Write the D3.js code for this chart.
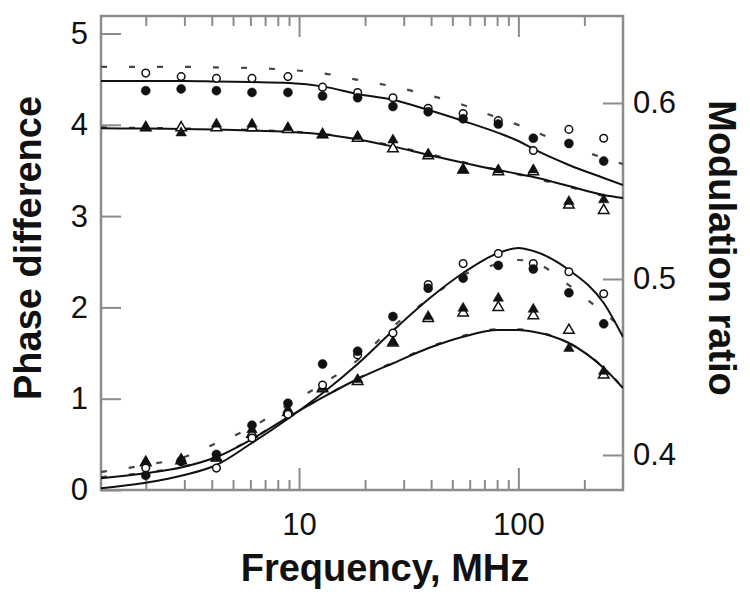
<!DOCTYPE html>
<html>
<head>
<meta charset="utf-8">
<script src="https://cdn.jsdelivr.net/npm/d3@7"></script>
<style>
  body { margin: 0; background: #fff; }
  text { font-family: "Liberation Sans", Arial, Helvetica, sans-serif; }
  .tickLabel text { font-size: 31px; fill: #111; }
  .axisTitle { font-size: 38px; font-weight: bold; fill: #111; }
</style>
</head>
<body>
<div id="chart"></div>
<script>
// measured frequencies (MHz)
const freqs = [2.0, 2.9, 4.2, 6.1, 8.9, 12.8, 18.5, 26.8, 38.8, 56, 81, 117, 170, 245];

// modulation ratio (right axis)
const modOpenCircle = [0.617, 0.615, 0.614, 0.614, 0.615, 0.609, 0.606, 0.603, 0.597, 0.594, 0.590, 0.573, 0.585, 0.580];
const modFilledCircle = [0.607, 0.608, 0.607, 0.606, 0.606, 0.604, 0.603, 0.598, 0.595, 0.591, 0.588, 0.580, 0.577, 0.567];
const modFilledTri = [0.586, 0.583, 0.588, 0.588, 0.586, 0.582, 0.581, 0.579, 0.571, 0.562, 0.562, 0.562, 0.544, 0.545];
const modOpenTri = [0.586, 0.586, 0.586, 0.586, 0.585, 0.582, 0.580, 0.574, 0.570, 0.562, 0.561, 0.561, 0.542, 0.539];

// phase difference (left axis)
const phOpenCircle = [0.24, 0.31, 0.24, 0.57, 0.83, 1.15, 1.48, 1.72, 2.25, 2.48, 2.59, 2.48, 2.39, 2.15];
const phFilledCircle = [0.16, 0.32, 0.39, 0.71, 0.95, 1.38, 1.52, 1.90, 2.21, 2.32, 2.46, 2.42, 2.16, 1.82];
const phFilledTri = [0.31, 0.34, 0.35, 0.66, 0.88, 1.12, 1.21, 1.62, 1.90, 1.99, 2.10, 1.98, 1.55, 1.30];
const phOpenTri = [0.30, 0.32, 0.35, 0.61, 0.85, 1.11, 1.19, 1.61, 1.88, 1.94, 2.00, 1.91, 1.75, 1.26];

// fitted curves
const curveFreqs = [1.25, 2, 3, 4.2, 6, 9, 13, 18.5, 27, 39, 56, 81, 100, 117, 170, 245, 300];
const modFitA = [0.6125, 0.6125, 0.6125, 0.6122, 0.6119, 0.6114, 0.6093, 0.6051, 0.6017, 0.5960, 0.5898, 0.5830, 0.5784, 0.5739, 0.5648, 0.5574, 0.5534];
const modFitADash = [0.6206, 0.6205, 0.6205, 0.6202, 0.6199, 0.6188, 0.6168, 0.6131, 0.6093, 0.6045, 0.5989, 0.5915, 0.5875, 0.5841, 0.5756, 0.5688, 0.5653];
const modFitB = [0.5856, 0.5855, 0.5852, 0.5849, 0.5844, 0.5835, 0.5821, 0.5793, 0.5752, 0.5705, 0.5661, 0.5619, 0.5597, 0.5580, 0.5528, 0.5477, 0.5460];
const modFitBDash = [0.5861, 0.5858, 0.5855, 0.5852, 0.5847, 0.5838, 0.5824, 0.5796, 0.5756, 0.5710, 0.5665, 0.5619, 0.5594, 0.5574, 0.5523, 0.5472, 0.5449];
const phFitA = [0.019, 0.080, 0.164, 0.274, 0.504, 0.789, 1.073, 1.380, 1.752, 2.092, 2.377, 2.596, 2.651, 2.618, 2.410, 2.048, 1.676];
const phFitADash = [0.197, 0.274, 0.361, 0.515, 0.679, 0.942, 1.172, 1.424, 1.796, 2.090, 2.355, 2.475, 2.519, 2.497, 2.245, 1.939, 1.774];
const phFitB = [0.128, 0.183, 0.255, 0.361, 0.548, 0.803, 1.022, 1.216, 1.391, 1.555, 1.679, 1.752, 1.752, 1.734, 1.610, 1.336, 1.117];
const phFitBDash = [0.140, 0.190, 0.260, 0.365, 0.552, 0.805, 1.024, 1.220, 1.400, 1.562, 1.688, 1.760, 1.760, 1.740, 1.612, 1.340, 1.120];

// ticks
const majorFreqTicks = [10, 100];
const minorFreqTicks = [2, 3, 4, 5, 6, 7, 8, 9, 20, 30, 40, 50, 60, 70, 80, 90, 200];
const phaseTicks = [0, 1, 2, 3, 4, 5];
const modTicks = [0.4, 0.5, 0.6];

const box = { left: 101, right: 623, top: 16, bottom: 490 };
const frameColor = "#8c8c8c";

var svg = d3.select("#chart").append("svg").attr("width", 750).attr("height", 605);

var x = d3.scaleLog().domain([1.25, 300]).range([box.left, box.right]);
var yL = d3.scaleLinear().domain([0, 5]).range([490, 33.5]);
var yR = d3.scaleLinear().domain([0.4, 0.6]).range([455, 103]);

function styleAxis(g, labels) {
  g.select(".domain").remove();
  g.selectAll(".tick line").attr("stroke", frameColor).attr("stroke-width", 2);
  if (!labels) g.selectAll(".tick text").remove();
  g.attr("class", "tickLabel");
}

// bottom axis
svg.append("g").attr("transform", `translate(0,${box.bottom})`)
  .call(d3.axisBottom(x).tickValues(majorFreqTicks).tickFormat(d3.format("d")).tickSizeInner(-22).tickSizeOuter(0).tickPadding(23))
  .call((g) => styleAxis(g, true));
svg.append("g").attr("transform", `translate(0,${box.bottom})`)
  .call(d3.axisBottom(x).tickValues(minorFreqTicks).tickSizeInner(-10).tickSizeOuter(0))
  .call((g) => styleAxis(g, false));
// top axis
svg.append("g").attr("transform", `translate(0,${box.top})`)
  .call(d3.axisTop(x).tickValues(majorFreqTicks).tickSizeInner(-21).tickSizeOuter(0))
  .call((g) => styleAxis(g, false));
svg.append("g").attr("transform", `translate(0,${box.top})`)
  .call(d3.axisTop(x).tickValues(minorFreqTicks).tickSizeInner(-10).tickSizeOuter(0))
  .call((g) => styleAxis(g, false));
// left axis
svg.append("g").attr("transform", `translate(${box.left},0)`)
  .call(d3.axisLeft(yL).tickValues(phaseTicks).tickFormat(d3.format("d")).tickSizeInner(-20).tickSizeOuter(0).tickPadding(13))
  .call((g) => styleAxis(g, true));
// right axis
svg.append("g").attr("transform", `translate(${box.right},0)`)
  .call(d3.axisRight(yR).tickValues(modTicks).tickFormat(d3.format(".1f")).tickSizeInner(-20).tickSizeOuter(0).tickPadding(10))
  .call((g) => styleAxis(g, true));

// frame
svg.append("rect")
  .attr("x", box.left).attr("y", box.top)
  .attr("width", box.right - box.left).attr("height", box.bottom - box.top)
  .attr("fill", "none").attr("stroke", frameColor).attr("stroke-width", 2.5);

// FIT LINES
var plot = svg.append("g");
plot.append("clipPath").attr("id", "clip").append("rect")
  .attr("x", box.left).attr("y", box.top)
  .attr("width", box.right - box.left).attr("height", box.bottom - box.top);
var lines = plot.append("g").attr("clip-path", "url(#clip)");

function drawFit(values, yScale, dashed) {
  var line = d3.line()
    .x((d, i) => x(curveFreqs[i]))
    .y((d) => yScale(d))
    .curve(d3.curveMonotoneX);
  lines.append("path")
    .attr("d", line(values))
    .attr("fill", "none")
    .attr("stroke", dashed ? "#444" : "#111")
    .attr("stroke-width", dashed ? 2.2 : 2)
    .attr("stroke-dasharray", dashed ? "6,22" : null);
}

drawFit(modFitADash, yR, true);
drawFit(modFitBDash, yR, true);
drawFit(phFitADash, yL, true);
drawFit(phFitBDash, yL, true);
drawFit(modFitA, yR, false);
drawFit(modFitB, yR, false);
drawFit(phFitA, yL, false);
drawFit(phFitB, yL, false);

// MARKERS
var marks = plot.append("g");
var tri = d3.symbol().type(d3.symbolTriangle).size(48);

function drawSeries(values, yScale, kind) {
  var g = marks.append("g");
  var sel = g.selectAll("path").data(values).enter();
  if (kind === "openCircle" || kind === "filledCircle") {
    sel.append("circle")
      .attr("cx", (d, i) => x(freqs[i]))
      .attr("cy", (d) => yScale(d))
      .attr("r", kind === "openCircle" ? 3.8 : 4.5)
      .attr("fill", kind === "openCircle" ? "#fff" : "#111")
      .attr("stroke", "#111")
      .attr("stroke-width", kind === "openCircle" ? 1.5 : 0.5);
  } else {
    sel.append("path")
      .attr("d", tri)
      .attr("transform", (d, i) => `translate(${x(freqs[i])},${yScale(d)})`)
      .attr("fill", kind === "openTri" ? "#fff" : "#111")
      .attr("stroke", "#111")
      .attr("stroke-width", kind === "openTri" ? 1.5 : 0.5);
  }
}

drawSeries(modOpenTri, yR, "openTri");
drawSeries(modFilledTri, yR, "filledTri");
drawSeries(modOpenCircle, yR, "openCircle");
drawSeries(modFilledCircle, yR, "filledCircle");
drawSeries(phOpenTri, yL, "openTri");
drawSeries(phFilledTri, yL, "filledTri");
drawSeries(phOpenCircle, yL, "openCircle");
drawSeries(phFilledCircle, yL, "filledCircle");

// TITLES
svg.append("text")
  .attr("class", "axisTitle")
  .attr("transform", "translate(41,248) rotate(-90)")
  .attr("text-anchor", "middle")
  .text("Phase difference");

svg.append("text")
  .attr("class", "axisTitle")
  .attr("transform", "translate(709,248) rotate(90)")
  .attr("text-anchor", "middle")
  .text("Modulation ratio");

svg.append("text")
  .attr("class", "axisTitle")
  .attr("x", 385).attr("y", 581)
  .attr("text-anchor", "middle")
  .text("Frequency, MHz");
</script>
</body>
</html>
